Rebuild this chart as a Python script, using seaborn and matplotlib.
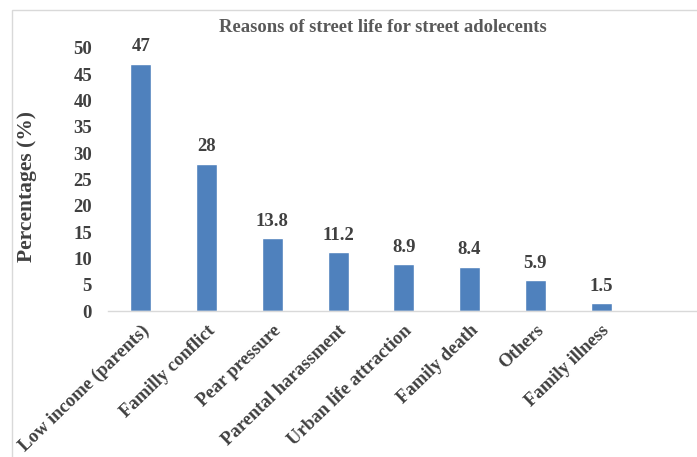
import matplotlib
matplotlib.use("Agg")
import matplotlib.pyplot as plt
import seaborn as sns
import pandas as pd
from matplotlib.patches import Rectangle
from matplotlib.ticker import MultipleLocator, FixedLocator

categories = ["Low income (parents)", "Familly conflict", "Pear pressure",
              "Parental harassment", "Urban life attraction", "Family death",
              "Others", "Family illness"]
values = [47, 28, 13.8, 11.2, 8.9, 8.4, 5.9, 1.5]
title = "Reasons of street life for street adolecents"
ylabel = "Percentages (%)"

sns.set_theme(style="white")
plt.rcParams['font.family'] = ['Liberation Serif', 'DejaVu Serif']

txt = '#404040'
bar_color = '#4f81bd'

fig = plt.figure(figsize=(6.97, 4.57), dpi=100)
# outer light border (chart frame)
fig.patches.append(Rectangle((12/697, -0.2), 1.2, 1 - 10/457 + 0.2, transform=fig.transFigure,
                             fill=False, edgecolor='#d9d9d9', linewidth=1.0, zorder=0))

ax = fig.add_axes([108/697, (457-311)/457, 589/697, (311-48)/457])
df = pd.DataFrame({"cat": categories, "val": values})
sns.barplot(data=df, x="cat", y="val", color=bar_color, width=0.32, saturation=1, ax=ax)

ax.set_xlim(-0.5, 8.46)
ax.set_ylim(0, 50)
ax.yaxis.set_major_locator(MultipleLocator(5))

for s in ['top', 'right', 'left']:
    ax.spines[s].set_visible(False)
ax.spines['bottom'].set_color('#d9d9d9')
ax.spines['bottom'].set_linewidth(1.0)

ax.set_xticks(range(len(categories)))
ax.set_xticklabels(categories, rotation=44, ha='right', rotation_mode='anchor',
                   fontsize=13.4, fontweight='bold', color=txt)
ax.tick_params(axis='x', which='major', length=0, pad=8)
ax.xaxis.set_minor_locator(FixedLocator([i - 0.5 for i in range(10)]))
ax.tick_params(axis='x', which='minor', length=5, color='#d9d9d9', width=1.0, direction='out')
ax.tick_params(axis='y', length=0, pad=11.5, labelsize=13.5, labelcolor=txt)
for lab in ax.get_yticklabels():
    lab.set_fontweight('bold')

ax.set_xlabel("")
ax.set_ylabel(ylabel, fontsize=15.5, fontweight='bold', color=txt)
ax.yaxis.set_label_coords((27 - 108) / 589, (311 - 187) / 263)
ax.yaxis.label.set_va('center')

labels = [f"{v:g}" for v in values]
ax.bar_label(ax.containers[0], labels=labels, padding=6, fontsize=13.5,
             fontweight='bold', color=txt)

fig.text((218+548)/2/697, 1 - 27/457, title, ha='center', va='center',
         fontsize=13.4, fontweight='bold', color='#595959')

fig.savefig("out.png", dpi=100)
